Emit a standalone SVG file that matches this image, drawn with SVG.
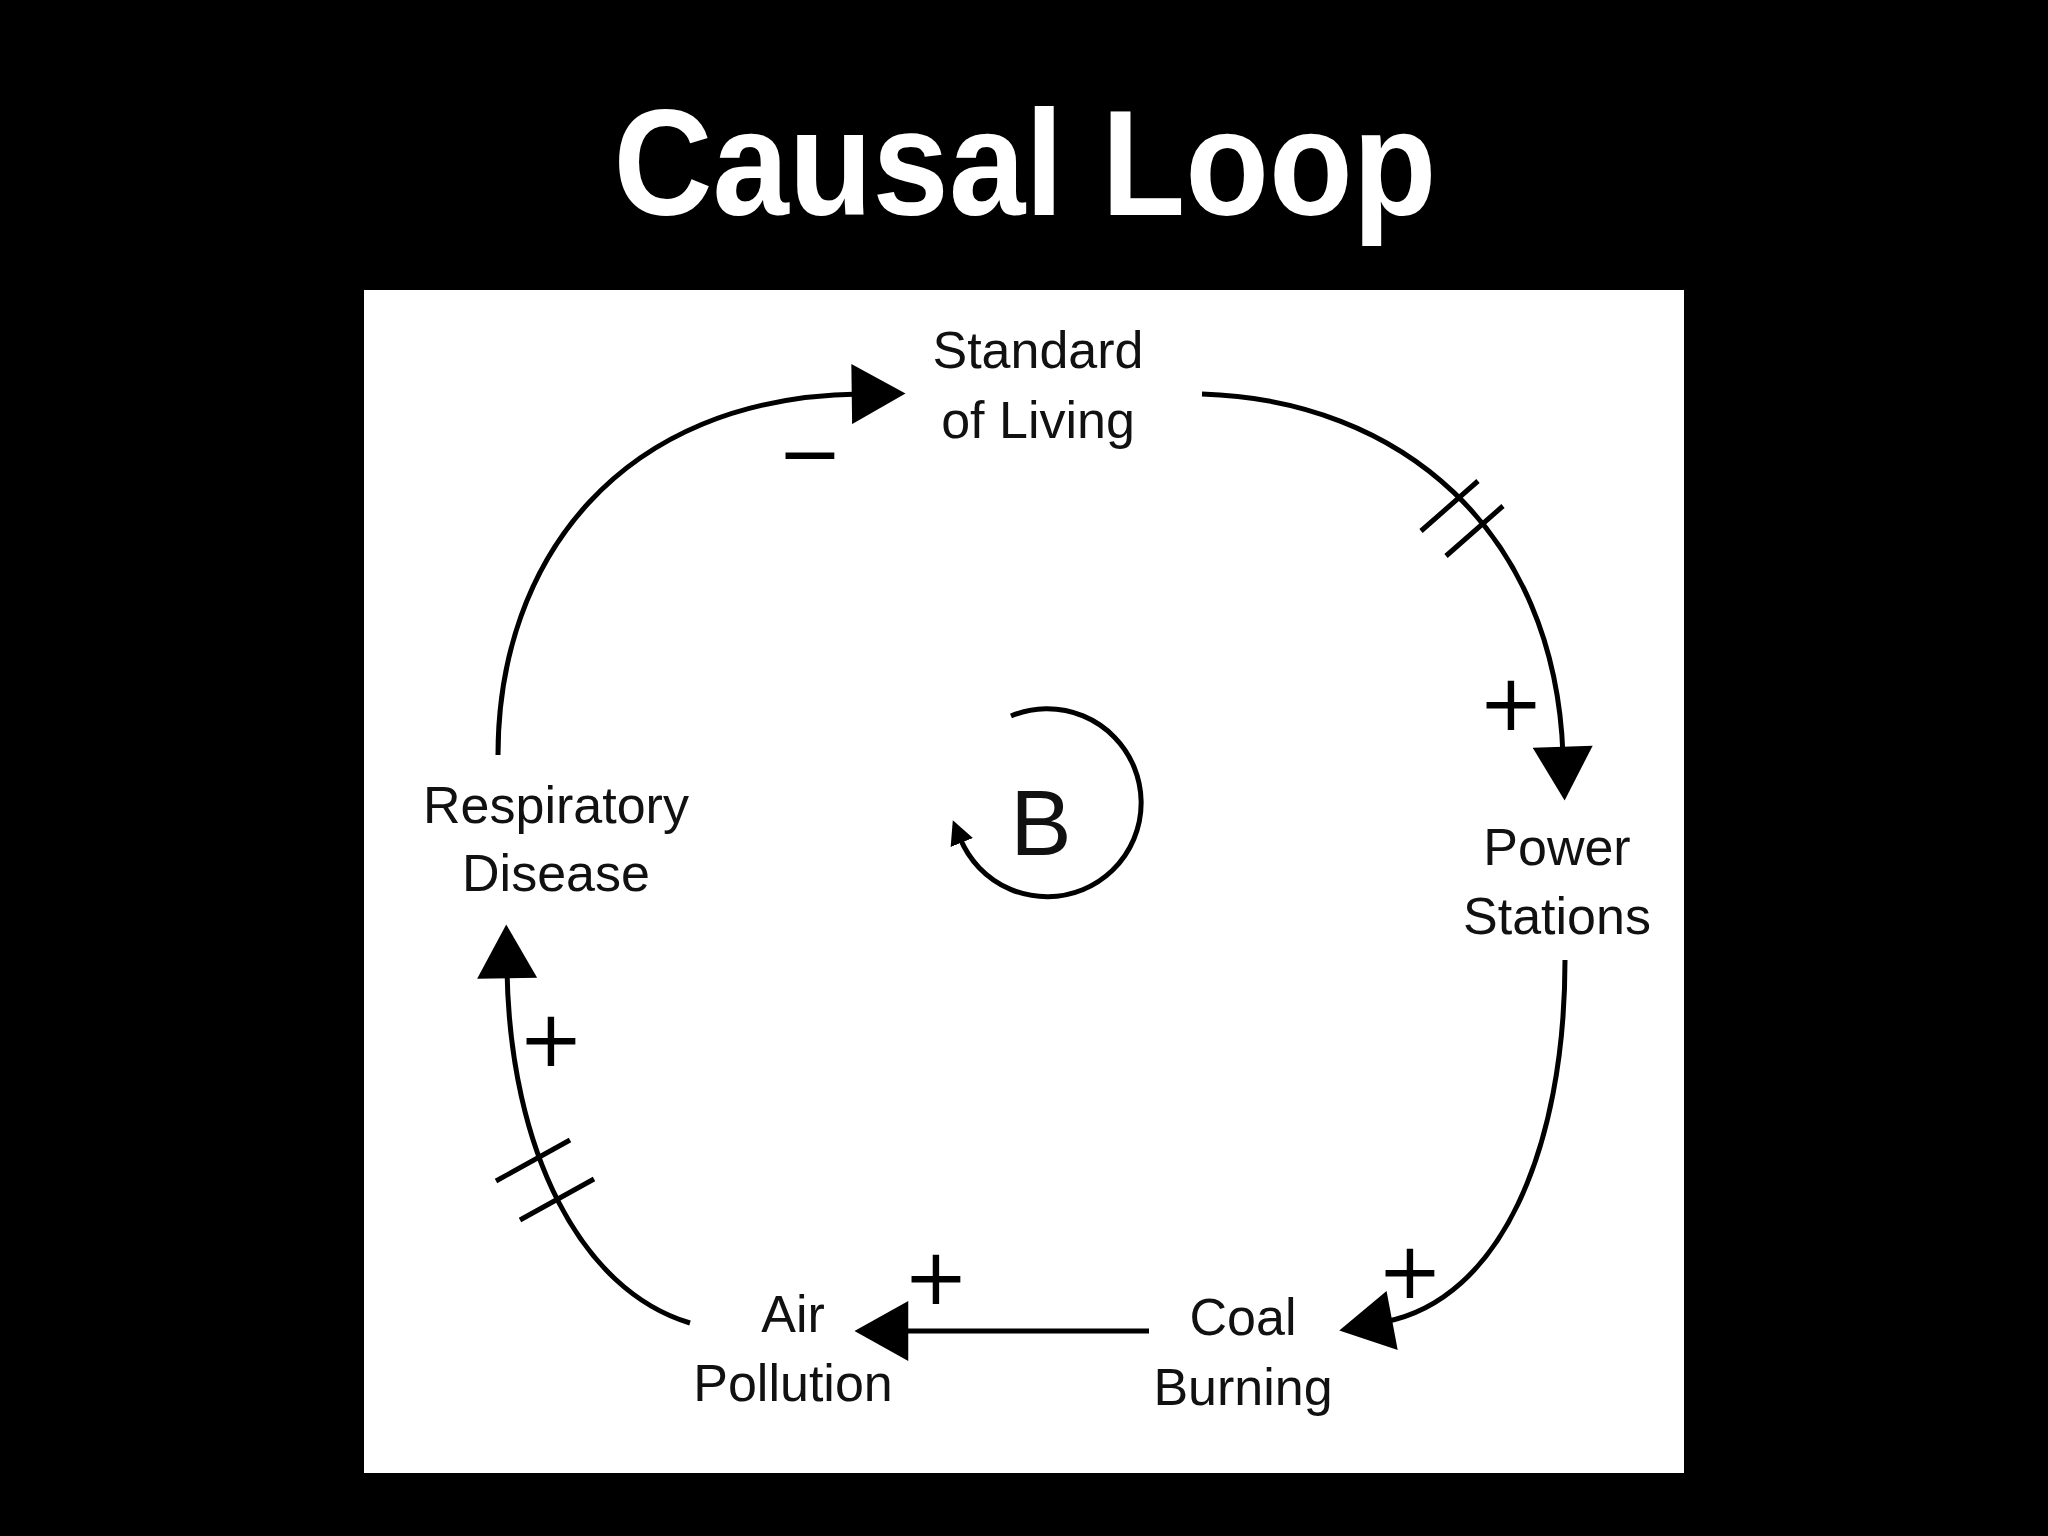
<svg xmlns="http://www.w3.org/2000/svg" width="2048" height="1536" viewBox="0 0 2048 1536">
<style>
.lbl{font-family:"Liberation Sans",Arial,sans-serif;font-size:52px;fill:#111;text-anchor:middle}
.sign{font-family:"DejaVu Sans",sans-serif;font-size:78px;fill:#000;text-anchor:middle}
.c{fill:none;stroke:#000;stroke-width:5}
</style>
<defs>
<marker id="ah" markerUnits="userSpaceOnUse" markerWidth="60" markerHeight="60" viewBox="0 0 52 58" refX="8" refY="29" orient="auto"><path d="M0,0 L52,29 L0,58 Z" fill="#000"/></marker>
<marker id="sm" markerUnits="userSpaceOnUse" markerWidth="24" markerHeight="24" viewBox="0 0 20 20" refX="4" refY="10" orient="auto"><path d="M0,0 L20,10 L0,20 Z" fill="#000"/></marker>
</defs>
<rect width="2048" height="1536" fill="#000"/>
<rect x="364" y="290" width="1320" height="1183" fill="#fff"/>
<text x="1025" y="215" textLength="823" lengthAdjust="spacingAndGlyphs" style="font-family:'Liberation Sans',Arial,sans-serif;font-weight:bold;font-size:150px;fill:#fff;text-anchor:middle">Causal Loop</text>
<g id="connectors">
<path class="c" d="M498,755 C498,560 620,397 860,394" marker-end="url(#ah)"/>
<path class="c" d="M1202,394 C1400,400 1555,530 1563,755" marker-end="url(#ah)"/>
<path class="c" d="M1565,960 C1565,1150 1500,1300 1384,1322" marker-end="url(#ah)"/>
<path class="c" d="M1149,1331 L900,1331" marker-end="url(#ah)"/>
<path class="c" d="M690,1323 C580,1290 510,1150 507,970" marker-end="url(#ah)"/>
<path class="c" d="M1421,531 L1478,481 M1446,556 L1503,506"/>
<path class="c" d="M496,1181 L570,1140 M520,1220 L594,1179"/>
<text class="sign" x="810" y="480">−</text>
<text class="sign" x="1511" y="730">+</text>
<text class="sign" x="1410" y="1298">+</text>
<text class="sign" x="936" y="1304">+</text>
<text class="sign" x="551" y="1066">+</text>
</g>
<g id="loop">
<path class="c" d="M1011,716 A94,94 0 1 1 960,838" marker-end="url(#sm)"/>
<text x="1041" y="855" style="font-family:'Liberation Sans',Arial,sans-serif;font-size:92px;fill:#111;text-anchor:middle">B</text>
</g>
<g id="standard"><text class="lbl" x="1038" y="368">Standard</text><text class="lbl" x="1038" y="438">of Living</text></g>
<g id="power"><text class="lbl" x="1557" y="865">Power</text><text class="lbl" x="1557" y="934">Stations</text></g>
<g id="coal"><text class="lbl" x="1243" y="1335">Coal</text><text class="lbl" x="1243" y="1405">Burning</text></g>
<g id="air"><text class="lbl" x="793" y="1332">Air</text><text class="lbl" x="793" y="1401">Pollution</text></g>
<g id="resp"><text class="lbl" x="556" y="823">Respiratory</text><text class="lbl" x="556" y="891">Disease</text></g>
</svg>
